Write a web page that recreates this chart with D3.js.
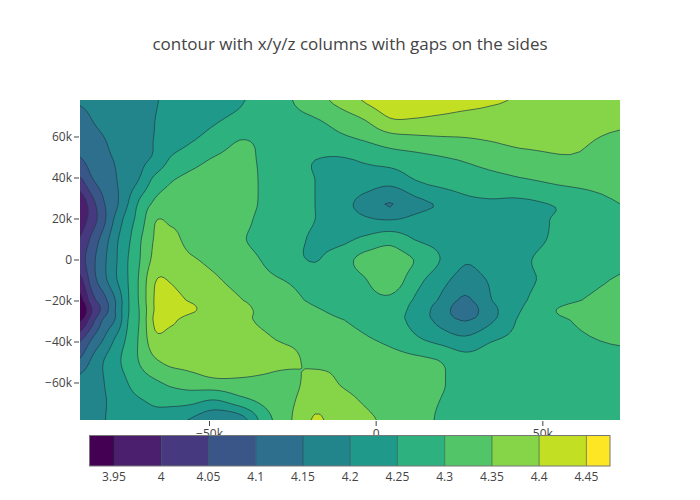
<!DOCTYPE html>
<html>
<head>
<meta charset="utf-8">
<script src="https://cdnjs.cloudflare.com/ajax/libs/d3/7.8.5/d3.min.js"></script>
<style>
html,body{margin:0;padding:0;background:#fff;}
svg{display:block;}
text{font-family:"Open Sans",sans-serif;fill:#444;}
</style>
</head>
<body>
<svg id="chart" width="700" height="500"></svg>
<script>
const titleText = "contour with x/y/z columns with gaps on the sides";
const xValues = [-88.7,-85.1,-81.5,-77.9,-74.3,-70.7,-66.2,-61.7,-55.7,-48.2,-40.7,-33.2,-25.7,-18.2,-10.7,-3.2,4.3,11.8,19.3,26.8,34.3,43.3,58.3,73.3];
const yValues = [77.8,68.0,58.3,48.5,38.8,27.1,19.3,9.5,-0.2,-10.0,-19.8,-24.6,-29.5,-39.3,-49.0,-58.8,-68.5,-78.3];
const zRows = [
[4.155,4.16,4.167,4.175,4.18,4.19,4.198,4.207,4.218,4.234,4.246,4.27,4.297,4.33,4.366,4.405,4.43,4.44,4.44,4.425,4.408,4.395,4.38,4.37],
[4.134,4.15,4.163,4.172,4.18,4.19,4.2,4.213,4.226,4.245,4.262,4.274,4.285,4.296,4.32,4.35,4.395,4.395,4.385,4.375,4.375,4.378,4.376,4.36],
[4.116,4.132,4.148,4.162,4.175,4.188,4.202,4.225,4.245,4.272,4.3,4.29,4.275,4.275,4.288,4.303,4.325,4.335,4.342,4.346,4.352,4.362,4.36,4.34],
[4.095,4.12,4.14,4.153,4.168,4.19,4.21,4.255,4.28,4.306,4.315,4.29,4.265,4.25,4.245,4.255,4.268,4.28,4.292,4.303,4.315,4.33,4.345,4.33],
[4.04,4.095,4.125,4.148,4.175,4.205,4.265,4.295,4.315,4.33,4.325,4.29,4.265,4.25,4.24,4.232,4.22,4.25,4.27,4.28,4.285,4.295,4.315,4.32],
[3.965,4.03,4.097,4.14,4.2,4.262,4.31,4.325,4.335,4.342,4.325,4.29,4.268,4.25,4.222,4.18,4.148,4.185,4.206,4.235,4.243,4.24,4.262,4.3],
[3.975,4.025,4.09,4.165,4.225,4.275,4.347,4.345,4.34,4.33,4.315,4.285,4.265,4.25,4.235,4.21,4.2,4.215,4.23,4.235,4.235,4.235,4.262,4.285],
[4.005,4.065,4.125,4.19,4.24,4.295,4.355,4.36,4.34,4.325,4.305,4.285,4.262,4.245,4.24,4.262,4.285,4.25,4.235,4.22,4.23,4.235,4.265,4.285],
[4.03,4.085,4.14,4.195,4.25,4.3,4.365,4.37,4.355,4.34,4.32,4.295,4.265,4.248,4.275,4.318,4.325,4.298,4.25,4.205,4.225,4.243,4.275,4.29],
[3.985,4.075,4.135,4.195,4.25,4.31,4.397,4.397,4.37,4.355,4.335,4.312,4.295,4.27,4.27,4.297,4.33,4.27,4.22,4.18,4.205,4.24,4.27,4.305],
[3.93,4.03,4.085,4.155,4.245,4.31,4.405,4.415,4.395,4.37,4.352,4.335,4.315,4.29,4.28,4.285,4.29,4.245,4.195,4.142,4.197,4.243,4.29,4.325],
[3.89,4.0,4.072,4.155,4.245,4.305,4.405,4.425,4.41,4.37,4.358,4.342,4.325,4.305,4.29,4.285,4.275,4.235,4.178,4.125,4.183,4.248,4.315,4.33],
[3.94,4.03,4.11,4.157,4.25,4.305,4.41,4.41,4.38,4.365,4.355,4.345,4.33,4.315,4.302,4.29,4.27,4.235,4.185,4.147,4.19,4.258,4.3,4.325],
[4.045,4.105,4.155,4.21,4.262,4.31,4.385,4.38,4.38,4.37,4.36,4.355,4.342,4.325,4.315,4.305,4.29,4.26,4.235,4.213,4.245,4.265,4.29,4.305],
[4.105,4.157,4.2,4.235,4.272,4.305,4.345,4.365,4.37,4.375,4.375,4.37,4.365,4.33,4.335,4.325,4.318,4.31,4.298,4.268,4.275,4.278,4.285,4.29],
[4.165,4.185,4.2,4.225,4.253,4.28,4.298,4.315,4.33,4.345,4.345,4.34,4.33,4.375,4.345,4.33,4.32,4.315,4.305,4.28,4.28,4.28,4.28,4.285],
[4.175,4.19,4.197,4.215,4.235,4.247,4.262,4.27,4.268,4.25,4.285,4.315,4.34,4.385,4.365,4.345,4.33,4.315,4.3,4.285,4.28,4.278,4.278,4.28],
[4.175,4.18,4.198,4.212,4.22,4.22,4.23,4.215,4.197,4.16,4.175,4.277,4.345,4.405,4.375,4.358,4.34,4.32,4.295,4.285,4.28,4.278,4.278,4.28]
];
const contourLevels = [3.95,4,4.05,4.1,4.15,4.2,4.25,4.3,4.35,4.4,4.45];
const bandColors = ["#440154","#4c1f6e","#46397f","#3a5587","#2e6f8e","#23858c","#1f998a","#2db17e","#52c569","#86d549","#c2df23","#fde725"];
const xTickValues = [-50,0,50];
const yTickValues = [60,40,20,0,-20,-40,-60];
const barTickLabels = ["3.95","4","4.05","4.1","4.15","4.2","4.25","4.3","4.35","4.4","4.45"];
const barDomain = [3.9246,4.475];

const svg = d3.select("#chart");
const x = d3.scaleLinear().domain([-88.7,73.3]).range([80,620]);
const y = d3.scaleLinear().domain([-78.3,77.8]).range([420,100]);
const xFromIndex = d3.scaleLinear().domain(d3.range(xValues.length)).range(xValues);
const yFromIndex = d3.scaleLinear().domain(d3.range(yValues.length)).range(yValues);
const bar = d3.scaleLinear().domain(barDomain).range([90,610]);

svg.append("text").attr("x",350).attr("y",50).attr("text-anchor","middle")
  .style("font-size","17px").text(titleText);

svg.append("defs").append("clipPath").attr("id","plotclip").append("rect")
  .attr("x",x.range()[0]).attr("y",y.range()[1])
  .attr("width",x.range()[1]-x.range()[0]).attr("height",y.range()[0]-y.range()[1]);

const plot = svg.append("g").attr("clip-path","url(#plotclip)");
plot.append("rect").attr("x",80).attr("y",100).attr("width",540).attr("height",320).attr("fill",bandColors[0]);

// Contour smoothing (render-time resampling of the read grid, as a smoothed contour trace does)
const K = 5;
const nx = xValues.length, ny = yValues.length;
const fx = (nx-1)*K+1, fy = (ny-1)*K+1;
function cr(a,b,c,d,t){return 0.5*(2*b+(c-a)*t+(2*a-5*b+4*c-d)*t*t+(3*b-a-3*c+d)*t*t*t);}
const clampI = (i,n)=>Math.max(0,Math.min(n-1,i));
const fine = new Float64Array(fx*fy);
for(let j=0;j<fy;j++){
  const v=j/K, j0=Math.min(Math.floor(v),ny-2), tv=v-j0;
  for(let i=0;i<fx;i++){
    const u=i/K, i0=Math.min(Math.floor(u),nx-2), tu=u-i0;
    const col=[];
    for(let m=-1;m<=2;m++){
      const row=zRows[clampI(j0+m,ny)];
      col.push(cr(row[clampI(i0-1,nx)],row[clampI(i0,nx)],row[clampI(i0+1,nx)],row[clampI(i0+2,nx)],tu));
    }
    fine[i+j*fx]=cr(col[0],col[1],col[2],col[3],tv);
  }
}
const contours = d3.contours().size([fx,fy]).thresholds(contourLevels).smooth(true)(fine);
const ringLine = d3.line()
  .x(p=>x(xFromIndex((p[0]-0.5)/K)))
  .y(p=>y(yFromIndex((p[1]-0.5)/K)))
  .curve(d3.curveLinear);
contours.forEach((c,i)=>{
  if(!c.coordinates.length) return;
  const d = c.coordinates.flat().map(r=>ringLine(r)+"Z").join("");
  plot.append("path").attr("d",d).attr("fill",bandColors[i+1]).attr("fill-rule","evenodd")
    .attr("stroke","#1c3a44").attr("stroke-opacity",0.85).attr("stroke-width",0.8);
});

// axes
const xAxis = d3.axisBottom(x).tickValues(xTickValues).tickSize(5).tickPadding(3)
  .tickFormat(d=>d===0?"0":(d<0?"\u2212":"")+Math.abs(d)+"k");
const gx = svg.append("g").attr("transform","translate(0,421)").call(xAxis);
gx.select(".domain").remove();
gx.selectAll("line").attr("stroke","#444");
gx.selectAll("text").style("font-size","12px").style("font-family","'Open Sans',sans-serif").attr("fill","#444");

const yAxis = d3.axisLeft(y).tickValues(yTickValues).tickSize(5).tickPadding(2)
  .tickFormat(d=>d===0?"0":(d<0?"\u2212":"")+Math.abs(d)+"k");
const gy = svg.append("g").attr("transform","translate(79,0)").call(yAxis);
gy.select(".domain").remove();
gy.selectAll("line").attr("stroke","#444");
gy.selectAll("text").style("font-size","12px").style("font-family","'Open Sans',sans-serif").attr("fill","#444");

// colorbar
const cb = svg.append("g");
const edges = [barDomain[0],...contourLevels,barDomain[1]];
bandColors.forEach((col,i)=>{
  cb.append("rect").attr("x",bar(edges[i])).attr("y",436)
    .attr("width",bar(edges[i+1])-bar(edges[i])).attr("height",30).attr("fill",col);
});
contourLevels.forEach(l=>{
  cb.append("line").attr("x1",bar(l)).attr("x2",bar(l)).attr("y1",436).attr("y2",466)
    .attr("stroke","#1c3a44").attr("stroke-opacity",0.7).attr("stroke-width",0.8);
});
cb.append("rect").attr("x",89.5).attr("y",435.5).attr("width",520.5).attr("height",30.5)
  .attr("fill","none").attr("stroke","#777").attr("stroke-width",1);
contourLevels.forEach((l,i)=>{
  cb.append("text").attr("x",bar(l)).attr("y",481).attr("text-anchor","middle")
    .style("font-size","12px").text(barTickLabels[i]);
});
</script>
</body>
</html>
